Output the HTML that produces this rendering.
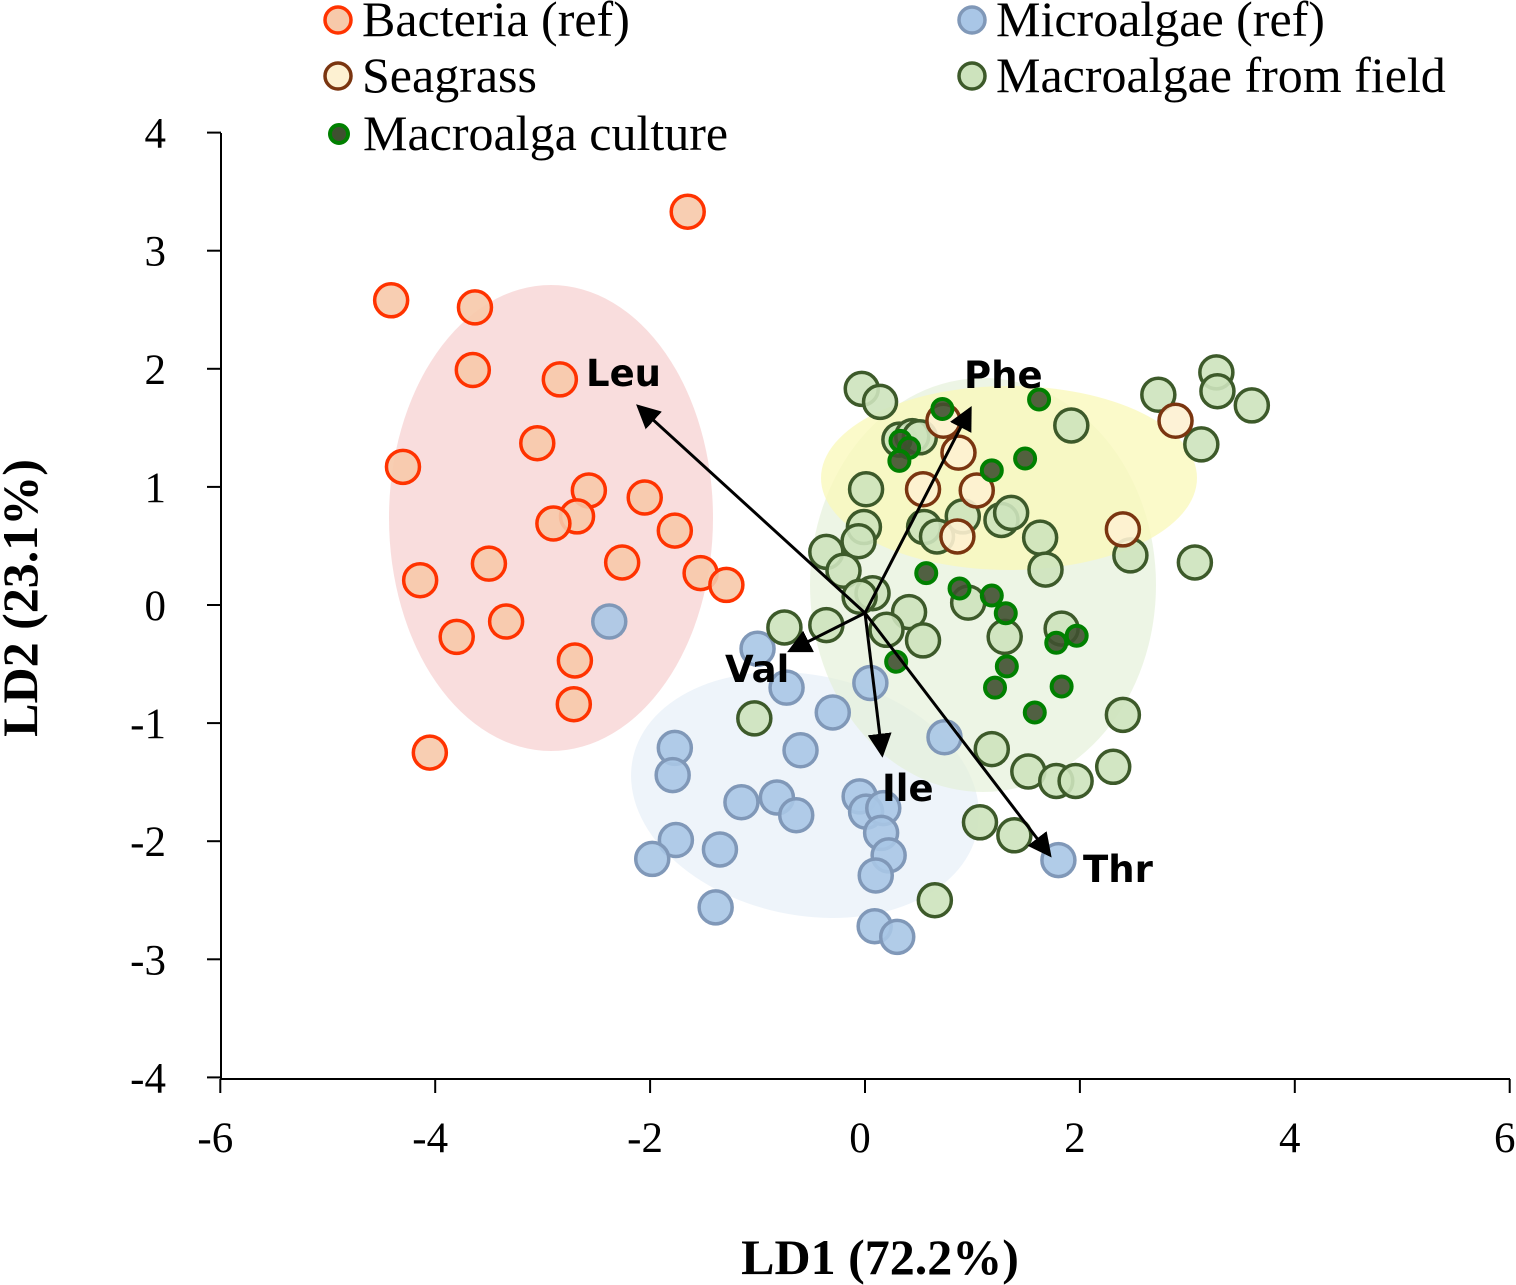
<!DOCTYPE html>
<html><head><meta charset="utf-8"><style>
html,body{margin:0;padding:0;background:#fff;}
svg{display:block;}
</style></head><body>
<svg id="chart" width="1516" height="1285" xmlns="http://www.w3.org/2000/svg">
<g id="ellipses"></g><g id="axes"></g><g id="pts"></g><g id="arrows"></g><g id="legend"></g>
</svg>
<script>
const bacteriaX=[-1.65,-4.41,-3.63,-3.65,-2.84,-3.05,-4.30,-2.57,-2.05,-2.68,-2.90,-1.77,-3.50,-2.26,-1.53,-1.29,-4.14,-3.34,-3.80,-2.70,-2.71,-4.05];
const bacteriaY=[3.33,2.58,2.52,1.99,1.91,1.37,1.17,0.97,0.91,0.75,0.69,0.63,0.35,0.36,0.27,0.17,0.21,-0.14,-0.27,-0.47,-0.84,-1.25];
const microX=[-2.38,-1.00,-0.73,0.05,-0.30,-0.60,0.74,-1.77,-1.79,-1.15,-0.82,-0.64,-0.05,0.01,0.17,0.15,0.22,0.10,-1.35,-1.76,-1.98,1.80,-1.39,0.09,0.30];
const microY=[-0.14,-0.37,-0.70,-0.66,-0.91,-1.23,-1.12,-1.21,-1.44,-1.67,-1.63,-1.78,-1.62,-1.75,-1.72,-1.93,-2.12,-2.29,-2.07,-1.99,-2.15,-2.16,-2.56,-2.72,-2.81];
const seagrassX=[0.73,0.87,0.54,1.04,2.89,2.40,0.86];
const seagrassY=[1.56,1.29,0.98,0.97,1.56,0.64,0.58];
const fieldX=[-0.03,0.14,3.27,2.73,3.28,3.60,1.92,3.13,0.32,0.44,0.51,0.01,-0.01,0.55,0.91,1.27,1.36,0.67,-0.06,1.63,2.47,-0.36,-0.20,1.68,3.07,0.07,-0.05,0.41,0.96,-0.75,-0.36,0.20,0.54,1.30,1.83,-1.03,2.40,1.18,1.52,1.78,1.96,2.31,1.07,1.39,0.65];
const fieldY=[1.83,1.72,1.97,1.78,1.81,1.69,1.52,1.36,1.40,1.43,1.42,0.98,0.66,0.66,0.75,0.72,0.78,0.58,0.54,0.57,0.42,0.45,0.29,0.30,0.36,0.10,0.07,-0.06,0.02,-0.19,-0.17,-0.21,-0.30,-0.27,-0.20,-0.96,-0.93,-1.22,-1.41,-1.49,-1.49,-1.37,-1.84,-1.95,-2.50];
const cultureX=[0.72,1.62,0.33,0.41,0.32,1.49,1.18,0.57,0.88,1.18,1.31,1.32,1.78,1.97,0.29,1.21,1.83,1.58];
const cultureY=[1.66,1.74,1.39,1.33,1.22,1.24,1.14,0.27,0.14,0.08,-0.07,-0.52,-0.32,-0.26,-0.48,-0.70,-0.69,-0.91];
const vecNames=["Leu","Phe","Val","Ile","Thr"];
const vecX=[-2.11,0.98,-0.70,0.16,1.72];
const vecY=[1.75,1.73,-0.32,-1.20,-2.05];
const xTicks=[-6,-4,-2,0,2,4,6];
const yTicks=[4,3,2,1,0,-1,-2,-3,-4];

const NS="http://www.w3.org/2000/svg";
const sx=v=>865+v*107.45;
const sy=v=>605-v*118.1;
function mk(tag,attrs,parent){const e=document.createElementNS(NS,tag);for(const k in attrs)e.setAttribute(k,attrs[k]);parent.appendChild(e);return e;}

const eg=document.getElementById('ellipses');
let el;
el=mk('ellipse',{cx:551,cy:518,rx:162,ry:233,fill:'#f8d4d4',opacity:0.8},eg);


el=mk('ellipse',{cx:805,cy:795,rx:176,ry:120,transform:'rotate(12 805 795)',fill:'#e3ecf7',opacity:0.6},eg);


el=mk('ellipse',{cx:983,cy:585,rx:173,ry:207,fill:'#e3efd7',opacity:0.65},eg);


el=mk('ellipse',{cx:1009,cy:478,rx:188,ry:92,fill:'#faf8b8',opacity:0.75},eg);



const ag=document.getElementById('axes');
const font='"Liberation Serif",serif';
let a=mk('line',{x1:221,y1:133,x2:221,y2:1079,stroke:'#000','stroke-width':2},ag);


a=mk('line',{x1:221,y1:1079,x2:1510,y2:1079,stroke:'#000','stroke-width':2},ag);


yTicks.forEach(t=>{
  mk('line',{x1:207,y1:sy(t),x2:221,y2:sy(t),stroke:'#000','stroke-width':2},ag);
  const tx=mk('text',{x:166,y:sy(t)+15,'text-anchor':'end','font-family':font,'font-size':43},ag);
  tx.textContent=t;
  
  
});
xTicks.forEach(t=>{
  mk('line',{x1:sx(t),y1:1079,x2:sx(t),y2:1093,stroke:'#000','stroke-width':2},ag);
  const tx=mk('text',{x:sx(t)-5,y:1152,'text-anchor':'middle','font-family':font,'font-size':43},ag);
  tx.textContent=t;
  
  
});
a=mk('text',{x:880,y:1274,'text-anchor':'middle','font-family':font,'font-size':50,'font-weight':'bold'},ag);
a.textContent='LD1 (72.2%)';


a=mk('text',{x:0,y:0,transform:'translate(37,598) rotate(-90)','text-anchor':'middle','font-family':font,'font-size':50,'font-weight':'bold'},ag);
a.textContent='LD2 (23.1%)';



const pg=document.getElementById('pts');
const styles={
 bacteria:{fill:'#f7c9aa',stroke:'#ff3300',r:16.5,sw:3.5},
 micro:{fill:'#a9c6e6',stroke:'#8098b8',r:16.5,sw:3.5},
 seagrass:{fill:'#fdf1d2',stroke:'#7a3510',r:16.5,sw:3.5},
 field:{fill:'#cde3bd',stroke:'#3d5a2a',r:16.5,sw:3.5},
 culture:{fill:'#3f5030',stroke:'#008000',r:10,sw:4}
};
function drawSeries(X,Y,key,name){
  const s=styles[key];
  X.forEach((x,i)=>{
    const c=mk('circle',{cx:sx(x),cy:sy(Y[i]),r:s.r,fill:s.fill,stroke:s.stroke,'stroke-width':s.sw,'fill-opacity':0.9},pg);
    
    
  });
}
drawSeries(bacteriaX,bacteriaY,'bacteria','bacteria-point');
drawSeries(microX,microY,'micro','microalgae-point');
drawSeries(fieldX,fieldY,'field','macroalgae-field-point');
drawSeries(seagrassX,seagrassY,'seagrass','seagrass-point');
drawSeries(cultureX,cultureY,'culture','macroalga-culture-point');

const arg=document.getElementById('arrows');
const defs=mk('defs',{},arg);
const m=mk('marker',{id:'ah',markerWidth:8,markerHeight:8,refX:7,refY:4,orient:'auto',markerUnits:'strokeWidth'},defs);
mk('path',{d:'M0,0 L8,4 L0,8 Z',fill:'#000'},m);
const ox=865,oy=613;
const lp=[[586,386],[964,388],[725,682],[882,801],[1083,882]];
vecNames.forEach((n,i)=>{
  const tx=ox+vecX[i]*107.45, ty=oy-vecY[i]*118.1;
  const l=mk('line',{x1:ox,y1:oy,x2:tx,y2:ty,stroke:'#000','stroke-width':3,'marker-end':'url(#ah)'},arg);
  
  
  const t=mk('text',{x:lp[i][0],y:lp[i][1],'font-family':'"DejaVu Sans","Liberation Sans",sans-serif','font-size':37,'font-weight':'bold'},arg);
  t.textContent=n;
  
  
});

const lg=document.getElementById('legend');
const leg=[['Bacteria (ref)','bacteria',338,20],['Microalgae (ref)','micro',972,20],['Seagrass','seagrass',338,76],['Macroalgae from field','field',972,76],['Macroalga culture','culture',339,134]];
leg.forEach(d=>{
  const s=styles[d[1]];
  const g=mk('g',{},lg);
  
  
  mk('circle',{cx:d[2],cy:d[3],r:d[1]=='culture'?9:13,fill:s.fill,stroke:s.stroke,'stroke-width':d[1]=='culture'?4:3.5},g);
  const t=mk('text',{x:d[2]+24,y:d[3]+16,'font-family':font,'font-size':50},g);
  t.textContent=d[0];
});
</script>
</body></html>
